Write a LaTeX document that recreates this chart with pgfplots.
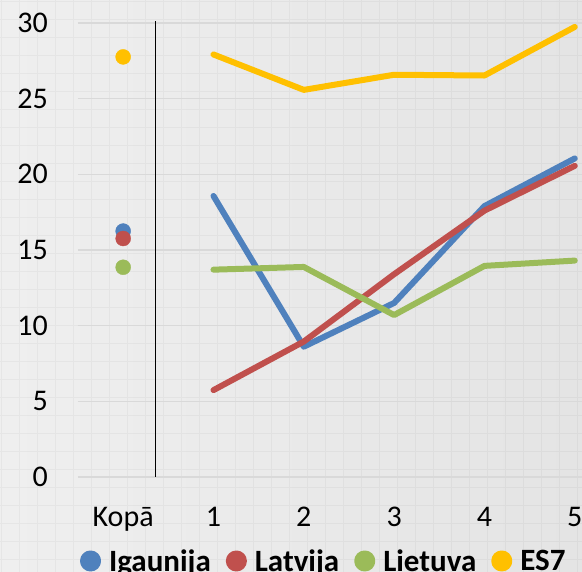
\documentclass[border=0pt]{standalone}
\usepackage{fontspec}
\setmainfont{Carlito}
\usepackage{pgfplots}
\pgfplotsset{compat=1.18}
\definecolor{cBlue}{HTML}{4F81BD}
\definecolor{cRed}{HTML}{C0504D}
\definecolor{cGreen}{HTML}{9BBB59}
\definecolor{cYellow}{HTML}{FFC000}
\definecolor{bgL}{HTML}{EFEFEF}
\definecolor{bgR}{HTML}{E4E4E4}
\definecolor{gridc}{HTML}{D9D9D9}
\begin{document}
\begin{tikzpicture}[x=1pt,y=1pt]
\path[use as bounding box] (0,0) rectangle (582,572);
\begin{scope}
\clip (0,0) rectangle (582,572);
\shade[left color=bgL, right color=bgR] (0,0) rectangle (582,572);
\draw[black, opacity=0.035, line width=1.6pt, xshift=1.5pt, yshift=12.3pt] (-18,-18) grid[step=18] (600,590);
\end{scope}
\begin{axis}[
  at={(78pt,95pt)}, anchor=south west,
  scale only axis, width=504pt, height=454pt,
  xmin=-0.5, xmax=5.08, ymin=0, ymax=30,
  clip=false,
  axis line style={draw=none},
  tick style={draw=none},
  xtick={0,1,2,3,4,5},
  xticklabels={Kopā,1,2,3,4,5},
  ytick={0,5,10,15,20,25,30},
  ymajorgrids,
  grid style={gridc, line width=1.5pt},
  tick label style={font=\fontsize{30}{32}\selectfont, inner sep=0pt},
  /pgf/number format/assume math mode=true,
  yticklabel style={anchor=east, xshift=-30pt},
  xticklabel style={anchor=base, yshift=-50pt},
  legend columns=4,
  legend style={at={(0.4876,-0.185)}, anchor=center, draw=none, fill=none,
    font=\bfseries\fontsize{31}{33}\selectfont,
    /tikz/every even column/.append style={column sep=13pt}},
  legend image code/.code={\fill (0pt,0pt) circle (7.5pt); \path (13.5pt,0pt);},
]
\addplot[black, line width=1.3pt, forget plot] coordinates {(0.36,0) (0.36,30.13)};
\addplot[only marks, mark=*, mark size=7.5pt, cBlue, forget plot] coordinates {(0,16.25)};
\addplot[only marks, mark=*, mark size=7.5pt, cRed, forget plot] coordinates {(0,15.76)};
\addplot[only marks, mark=*, mark size=7.5pt, cGreen, forget plot] coordinates {(0,13.86)};
\addplot[only marks, mark=*, mark size=7.5pt, cYellow, forget plot] coordinates {(0,27.76)};
\addplot[cBlue, line width=6pt, line cap=round, line join=round, mark=none] coordinates {(1,18.57) (2,8.61) (3,11.5) (4,17.9) (5,21.05)};
\addlegendentry{Igaunija}
\addplot[cRed, line width=6pt, line cap=round, line join=round, mark=none] coordinates {(1,5.74) (2,8.95) (3,13.4) (4,17.6) (5,20.56)};
\addlegendentry{Latvija}
\addplot[cGreen, line width=6pt, line cap=round, line join=round, mark=none] coordinates {(1,13.7) (2,13.88) (3,10.7) (4,13.95) (5,14.3)};
\addlegendentry{Lietuva}
\addplot[cYellow, line width=6pt, line cap=round, line join=round, mark=none] coordinates {(1,27.92) (2,25.58) (3,26.58) (4,26.53) (5,29.74)};
\addlegendentry{ES7}
\end{axis}
\end{tikzpicture}
\end{document}
